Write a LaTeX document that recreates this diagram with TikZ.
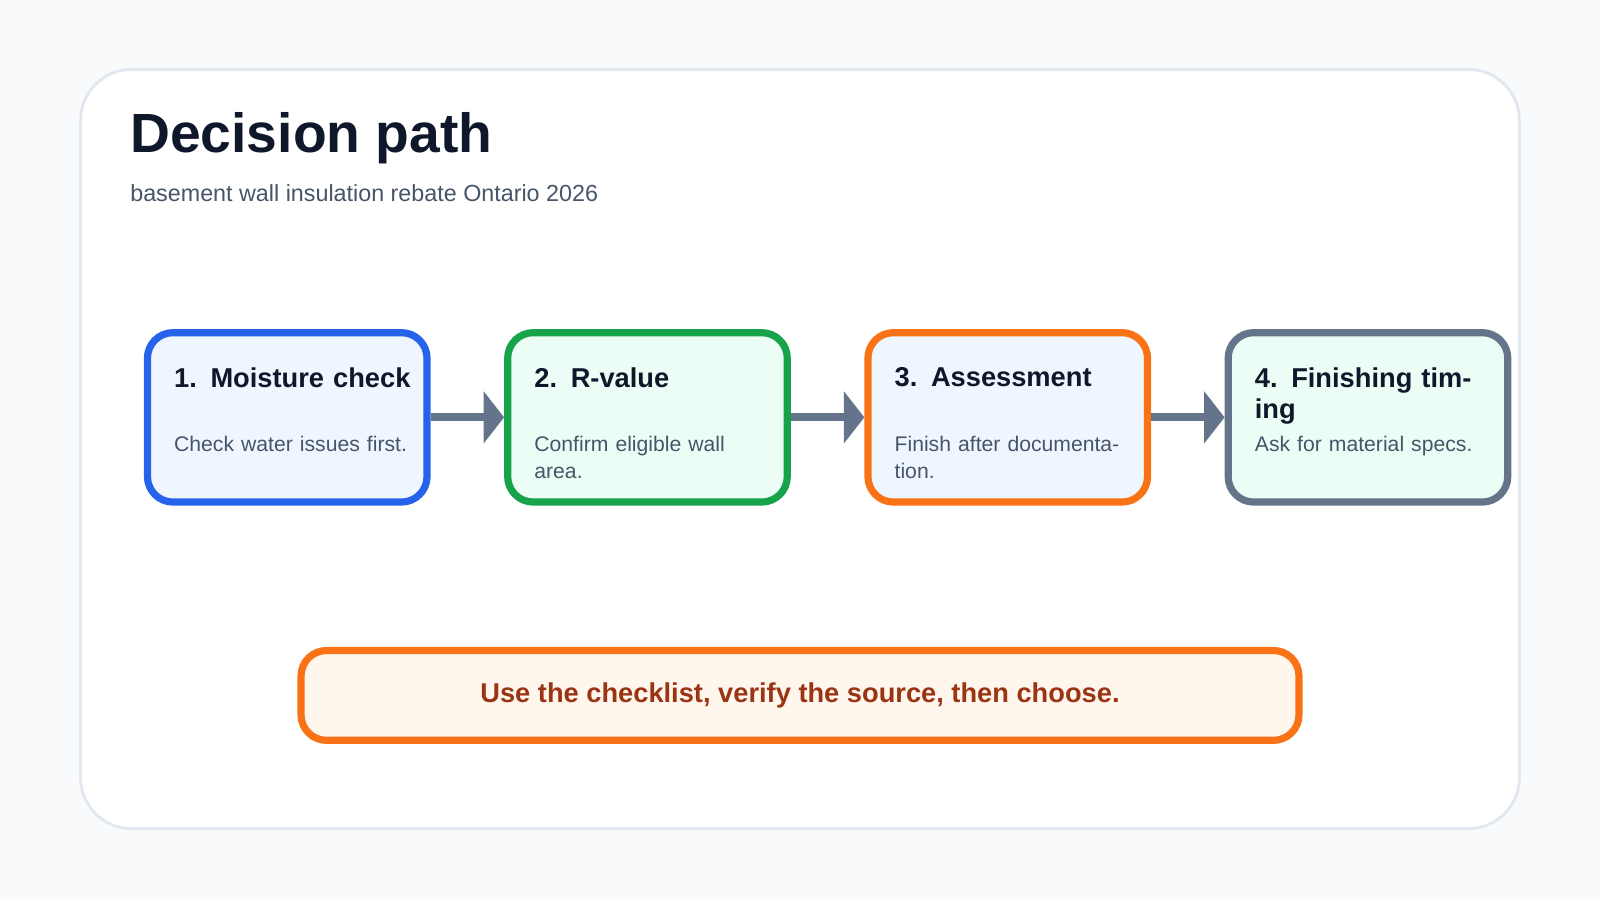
\documentclass[tikz,border=0pt]{standalone}
\usepackage{fontspec}
\setmainfont{Liberation Sans}
\usetikzlibrary{positioning,arrows.meta}
\definecolor{pagebg}{HTML}{F8FAFC}
\definecolor{cardline}{HTML}{E2E8F0}
\definecolor{ink}{HTML}{0F172A}
\definecolor{subink}{HTML}{475569}
\definecolor{stepblue}{HTML}{2563EB}
\definecolor{stepgreen}{HTML}{16A34A}
\definecolor{steporange}{HTML}{F97316}
\definecolor{stepgray}{HTML}{64748B}
\definecolor{fillblue}{HTML}{EFF6FF}
\definecolor{fillgreen}{HTML}{ECFDF5}
\definecolor{fillnote}{HTML}{FFF7ED}
\definecolor{noteink}{HTML}{9A3412}
\tikzset{
    stepbox/.style={draw, line width=2pt, rounded corners=0.25cm, minimum width=2.74cm, minimum height=1.66cm},
    steptitle/.style={anchor=north west, text width=2.4cm, align=left, inner sep=0pt, font=\fontsize{7.6}{8.6}\selectfont\bfseries, text=ink},
    stepbody/.style={anchor=north west, text width=2.4cm, align=left, inner sep=0pt, font=\fontsize{5.9}{7.5}\selectfont, text=subink},
    flow/.style={stepgray, line width=2.3pt, -{Triangle[length=0.2cm, width=0.5cm]}},
}
\begin{document}
\begin{tikzpicture}[x=1cm, y=-1cm]
\useasboundingbox[fill=pagebg] (0,0) rectangle (15.68,8.82);
\draw[cardline, line width=0.8pt, fill=white, rounded corners=0.5cm] (0.79,0.68) rectangle (14.89,8.12);
\node[anchor=base west, inner sep=0pt, font=\fontsize{15.4}{18}\selectfont\bfseries, text=ink] (title) at (1.27,1.49) {Decision path};
\node[anchor=base west, inner sep=0pt, font=\fontsize{6.5}{8}\selectfont, text=subink] (subtitle) at (1.27,1.97) {basement wall insulation rebate Ontario 2026};

% steps
\node[stepbox, draw=stepblue, fill=fillblue] (moisture) at (2.815,4.09) {};
\node[stepbox, draw=stepgreen, fill=fillgreen, right=0.72cm of moisture] (rvalue) {};
\node[stepbox, draw=steporange, fill=fillblue, right=0.72cm of rvalue] (assess) {};
\node[stepbox, draw=stepgray, fill=fillgreen, right=0.72cm of assess] (finish) {};

\node[steptitle] at ([shift={(0.29,0.37)}]moisture.north west) {1. Moisture check};
\node[stepbody] at ([shift={(0.29,1.04)}]moisture.north west) {Check water issues first.};
\node[steptitle] at ([shift={(0.29,0.37)}]rvalue.north west) {2. R-value};
\node[stepbody] at ([shift={(0.29,1.04)}]rvalue.north west) {Confirm eligible wall area.};
\node[steptitle] at ([shift={(0.29,0.37)}]assess.north west) {3. Assessment};
\node[stepbody] at ([shift={(0.29,1.04)}]assess.north west) {Finish after documentation.};
\node[steptitle] at ([shift={(0.29,0.37)}]finish.north west) {4. Finishing timing};
\node[stepbody] at ([shift={(0.29,1.04)}]finish.north west) {Ask for material specs.};

\draw[flow] (moisture) -- (rvalue);
\draw[flow] (rvalue) -- (assess);
\draw[flow] (assess) -- (finish);

% note
\node[draw=steporange, fill=fillnote, line width=2pt, rounded corners=0.25cm, minimum width=9.78cm, minimum height=0.88cm, font=\fontsize{7.6}{9}\selectfont\bfseries, text=noteink] (note) at (7.84,6.815) {Use the checklist, verify the source, then choose.};
\end{tikzpicture}
\end{document}
